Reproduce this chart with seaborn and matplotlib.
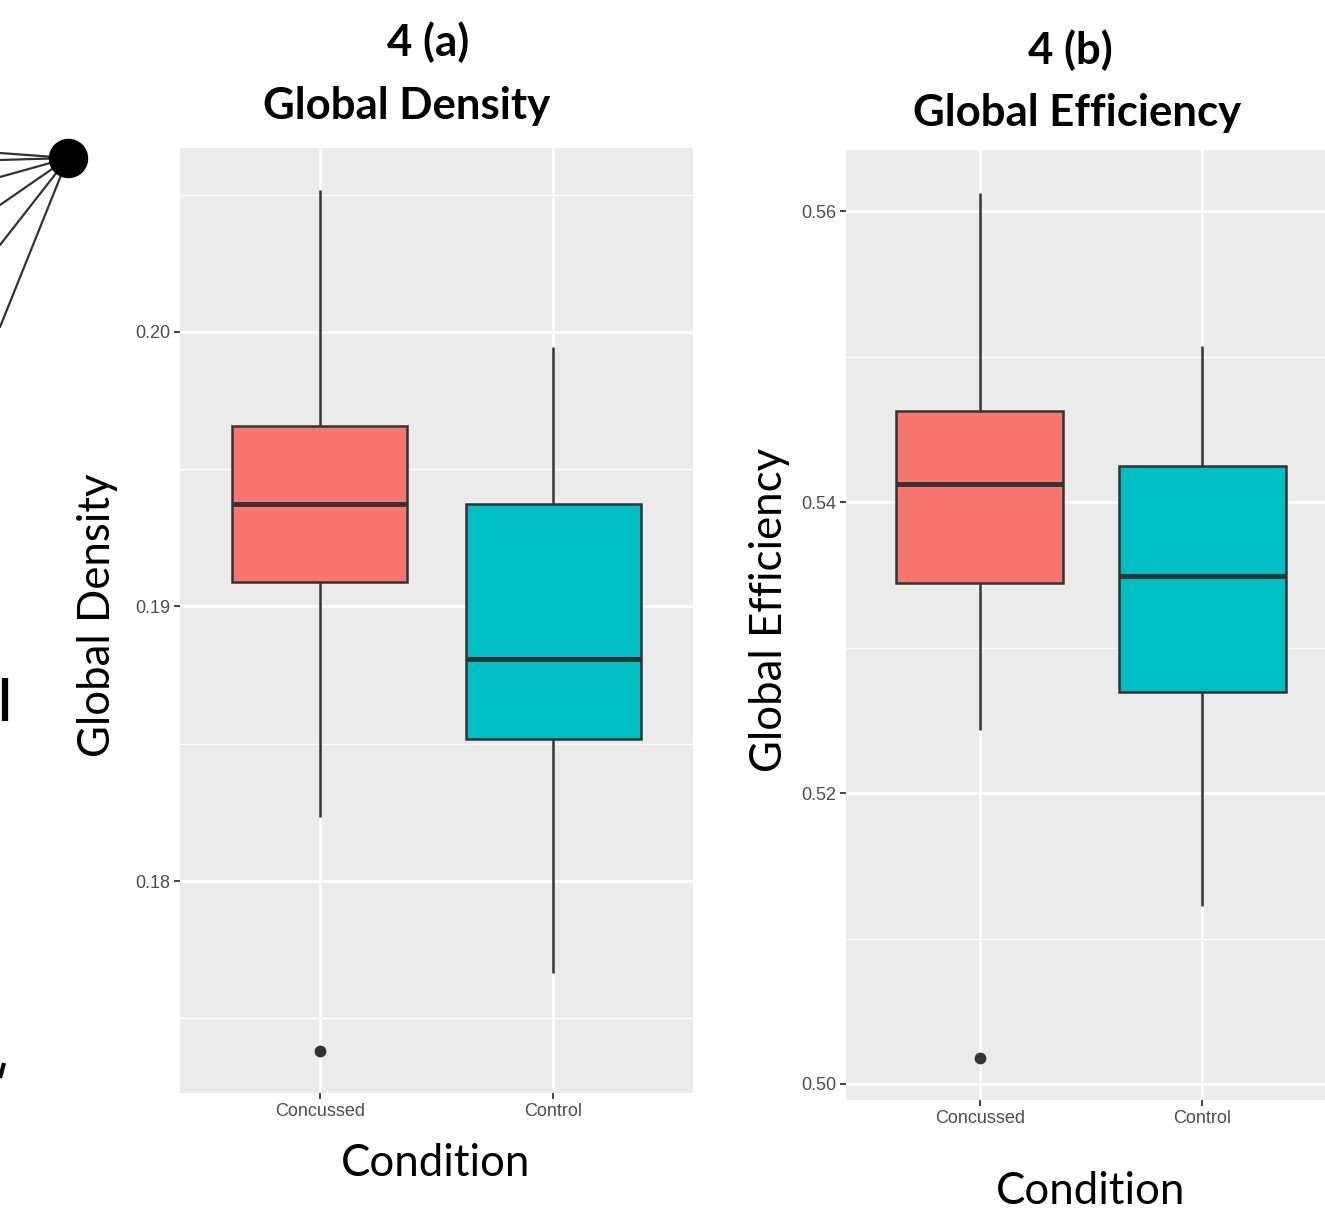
import numpy as np
import pandas as pd
import matplotlib
matplotlib.use("Agg")
import matplotlib.pyplot as plt
from matplotlib.ticker import MultipleLocator
import seaborn as sns

# ---- data: five-number summaries per condition -------------------------
conditions = ["Concussed", "Control"]
palette = ["#F8766D", "#00BFC4"]

density_low = [0.18235, 0.17665]
density_q1 = [0.19089, 0.18519]
density_med = [0.19373, 0.18807]
density_q3 = [0.19658, 0.19373]
density_high = [0.20517, 0.19945]
density_outlier_cond = ["Concussed"]
density_outlier_val = [0.17381]

eff_low = [0.52433, 0.51223]
eff_q1 = [0.53443, 0.52694]
eff_med = [0.54124, 0.53491]
eff_q3 = [0.54625, 0.54247]
eff_high = [0.56124, 0.55072]
eff_outlier_cond = ["Concussed"]
eff_outlier_val = [0.50179]

density_ticks = [0.18, 0.19, 0.20]
eff_ticks = [0.50, 0.52, 0.54, 0.56]


def summary_frame(low, q1, med, q3, high):
    rows = []
    for i, c in enumerate(conditions):
        for v in (low[i], q1[i], med[i], q3[i], high[i]):
            rows.append({"Condition": c, "value": v})
    return pd.DataFrame(rows)


sns.set_theme(style="darkgrid")
plt.rcParams["font.family"] = ["Liberation Sans", "DejaVu Sans"]

fig = plt.figure(figsize=(13.25, 12.10), dpi=100)

EDGE = "#333333"
BG = "#EBEBEB"


def draw_panel(ax, df, out_cond, out_val, ticks, minor, ylim):
    ax.set_facecolor(BG)
    sns.boxplot(
        data=df, x="Condition", y="value", hue="Condition",
        order=conditions, hue_order=conditions, palette=palette,
        width=0.75, whis=np.inf, saturation=1, legend=False, ax=ax,
        linecolor=EDGE, linewidth=1.8,
        medianprops=dict(color=EDGE, linewidth=3.5),
        boxprops=dict(edgecolor=EDGE, linewidth=1.8),
        whiskerprops=dict(color=EDGE, linewidth=1.8),
        capprops=dict(linewidth=0),
        showfliers=False, zorder=3,
    )
    odf = pd.DataFrame({"Condition": out_cond, "value": out_val})
    sns.stripplot(data=odf, x="Condition", y="value", order=conditions,
                  jitter=False, color=EDGE, size=8.5, ax=ax, zorder=4)
    ax.set_xlim(-0.6, 1.6)
    ax.set_ylim(*ylim)
    ax.set_yticks(ticks)
    ax.set_yticklabels([f"{t:.2f}" for t in ticks])
    ax.yaxis.set_minor_locator(MultipleLocator(minor))
    ax.grid(which="major", color="white", linewidth=1.8)
    ax.grid(which="minor", color="white", linewidth=0.9)
    ax.set_axisbelow(True)
    for s in ax.spines.values():
        s.set_visible(False)
    ax.tick_params(axis="both", which="major", length=4, width=1.3,
                   color=EDGE, labelsize=13, labelcolor="#4D4D4D", pad=3)
    ax.tick_params(axis="both", which="minor", length=0)
    ax.tick_params(axis="x", bottom=True)
    ax.tick_params(axis="y", left=True)
    ax.set_xlabel("")
    ax.set_ylabel("")


# panel (a): global density
ax_a = fig.add_axes([180 / 1325, 1 - 1093 / 1210, 513 / 1325, 945 / 1210])
draw_panel(ax_a, summary_frame(density_low, density_q1, density_med,
                               density_q3, density_high),
           density_outlier_cond, density_outlier_val,
           density_ticks, 0.005, (0.17228, 0.2067))

# panel (b): global efficiency
ax_b = fig.add_axes([846 / 1325, 1 - 1100 / 1210, 490 / 1325, 950 / 1210])
draw_panel(ax_b, summary_frame(eff_low, eff_q1, eff_med, eff_q3, eff_high),
           eff_outlier_cond, eff_outlier_val,
           eff_ticks, 0.01, (0.4989, 0.5642))

# titles and axis labels
TFONT = ["Lato", "DejaVu Sans"]


def ftext(x, y, s, **kw):
    fig.text(x / 1325, 1 - y / 1210, s, ha="center", va="center",
             family=TFONT, color="black", **kw)


ftext(428, 42, "4 (a)", fontsize=31.5, fontweight="bold")
ftext(407, 106, "Global Density", fontsize=31.5, fontweight="bold")
ftext(1070, 50, "4 (b)", fontsize=31.5, fontweight="bold")
ftext(1077, 113, "Global Efficiency", fontsize=31.5, fontweight="bold")
ftext(98, 615, "Global Density", fontsize=31.5, rotation=90)
ftext(770, 610, "Global Efficiency", fontsize=31.5, rotation=90)
ftext(436, 1163, "Condition", fontsize=31.5)
ftext(1091, 1192, "Condition", fontsize=31.5)

# edge of the neighbouring network diagram
net = fig.add_axes([0, 0, 1, 1], zorder=-1)
net.set_xlim(0, 1325)
net.set_ylim(1210, 0)
net.axis("off")
hub = (68, 158)
for ex, ey in [(0, 153), (0, 160), (0, 177), (0, 205), (0, 245), (0, 327)]:
    net.plot([hub[0], ex], [hub[1], ey], color="#333333", lw=1.6)
net.scatter([hub[0]], [hub[1]], s=750, color="black", zorder=3)
net.plot([5, 5], [678, 721], color="black", lw=4.5, solid_capstyle="butt")
net.plot([0, 4], [1078, 1063], color="black", lw=3, solid_capstyle="butt")

fig.savefig("out.png", dpi=100, facecolor="white")
